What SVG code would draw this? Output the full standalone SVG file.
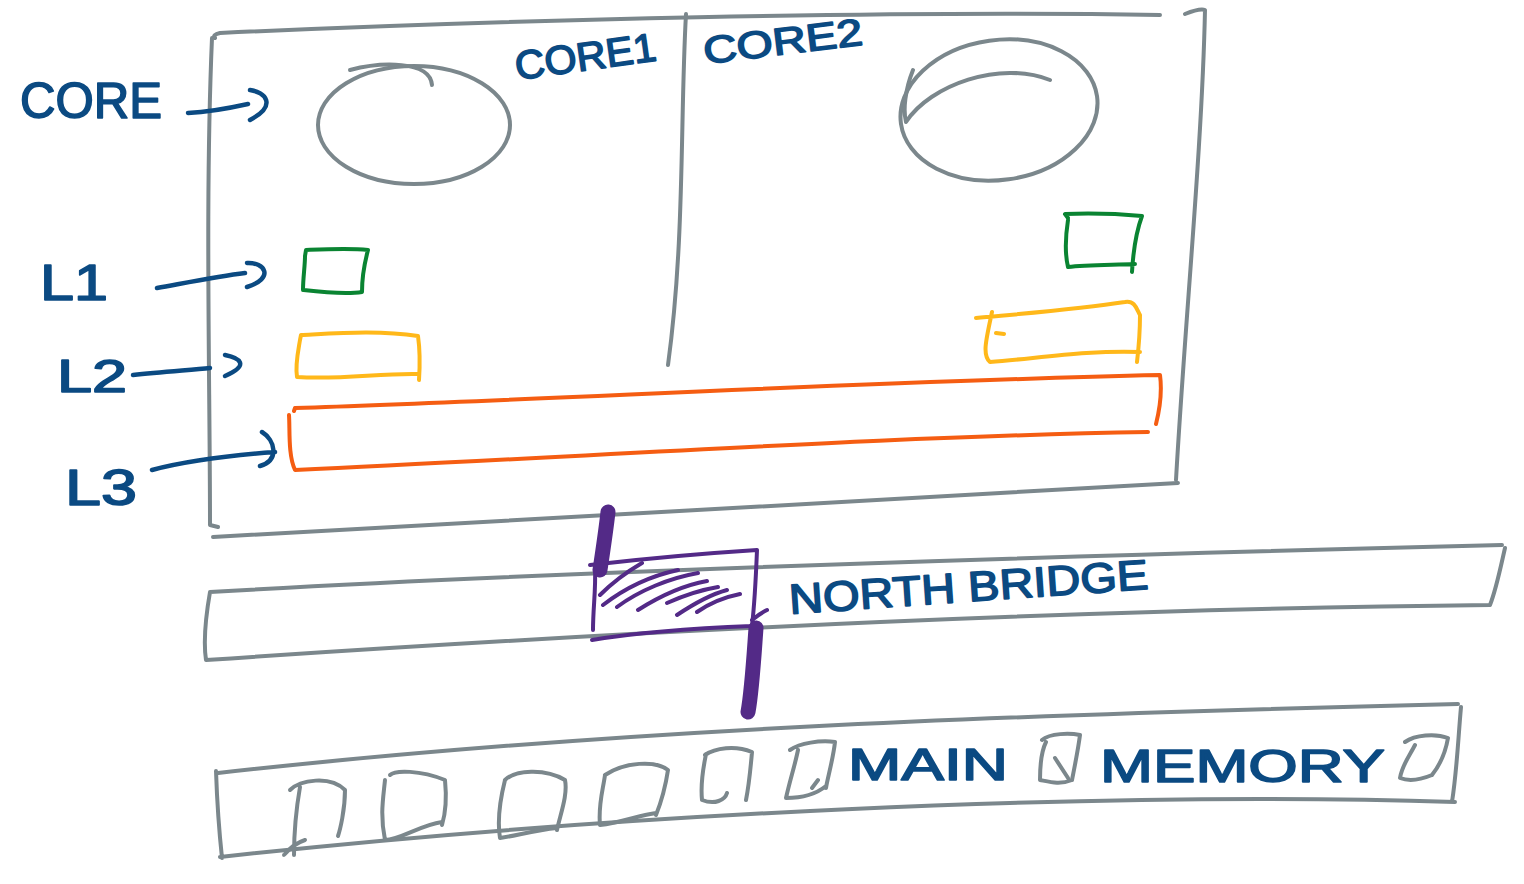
<svg xmlns="http://www.w3.org/2000/svg" width="1524" height="884" viewBox="0 0 1524 884">
<style>
.g{fill:none;stroke:#7b878c;stroke-width:4;stroke-linecap:round;stroke-linejoin:round}
.b{fill:none;stroke:#0b4a82;stroke-width:4.5;stroke-linecap:round;stroke-linejoin:round}
.gr{fill:none;stroke:#0a8432;stroke-width:4;stroke-linecap:round;stroke-linejoin:round}
.y{fill:none;stroke:#ffb81a;stroke-width:4;stroke-linecap:round;stroke-linejoin:round}
.o{fill:none;stroke:#f55d12;stroke-width:4;stroke-linecap:round;stroke-linejoin:round}
.p{fill:none;stroke:#532a87;stroke-width:4;stroke-linecap:round;stroke-linejoin:round}
.pb{fill:none;stroke:#532a87;stroke-width:15;stroke-linecap:round;stroke-linejoin:round}
.t{fill:#0b4a82;stroke:#0b4a82;stroke-width:1.6;stroke-linejoin:round;font-family:"Liberation Sans",Arial,sans-serif;font-weight:normal}
</style>
<rect width="1524" height="884" fill="#ffffff"/>
<g id="cpu">
<path class="g" d="M215 38 Q212 35 220 33 C500 20 900 10 1160 15"/>
<path class="g" d="M1185 14 Q1200 8 1205 10 C1202 150 1185 320 1176 480"/>
<path class="g" d="M212 38 C205 200 210 380 210 525 L218 527"/>
<path class="g" d="M213 537 C500 520 900 500 1178 483"/>
<path class="g" d="M686 14 C680 120 685 240 668 365"/>
</g>
<g id="core1">
<ellipse class="g" cx="414" cy="125" rx="96" ry="59"/>
<path class="g" d="M350 70 C380 62 430 60 432 85"/>
</g>
<g id="core2">
<ellipse class="g" cx="999" cy="110" rx="99" ry="70" transform="rotate(-8 999 110)"/>
<path class="g" d="M913 70 C905 90 903 110 906 122 C930 85 1000 60 1050 80"/>
</g>
<g id="l1-left"><path class="gr" d="M305 256 L306 250 C330 249 350 248 368 250 C364 265 362 280 362 292 C345 295 320 292 303 290 C303 278 305 266 305 256"/></g>
<g id="l1-right"><path class="gr" d="M1068 218 L1065 214 C1090 213 1120 214 1142 216 C1135 235 1133 255 1132 272 M1135 264 C1110 265 1085 265 1068 267 C1064 250 1066 233 1068 220"/></g>
<g id="l2-left"><path class="y" d="M300 340 L301 335 C340 333 380 330 418 336 C420 350 420 365 419 380 M418 374 C380 373 340 380 297 377 C295 365 298 352 300 340"/></g>
<g id="l2-right"><path class="y" d="M976 318 C1030 313 1080 309 1125 302 C1135 300 1137 310 1140 315 C1140 330 1139 345 1137 362 M1140 352 C1090 350 1040 358 990 362 C982 355 986 340 992 312 M996 333 L1004 334"/></g>
<g id="l3"><path class="o" d="M294 411 L295 408 C550 400 850 382 1160 375 C1162 390 1160 408 1156 424 M1148 432 C900 436 600 456 295 470 C288 455 290 430 289 415"/></g>
<g id="northbridge">
<path class="g" d="M210 592 C500 575 900 560 1502 545 M1505 548 C1500 570 1496 590 1490 605 M1490 605 C1000 610 500 640 206 660 C203 640 206 615 210 592"/>
</g>
<g id="chip">
<path class="p" d="M590 565 C650 558 710 553 757 550 C756 575 755 600 752 626 M752 626 C700 628 640 632 592 640 M595 568 C596 590 593 608 593 630"/>
<path class="p" d="M600 595 C615 580 630 570 642 563 M603 605 C625 588 650 576 678 570 M617 607 C640 590 670 578 698 573 M638 610 C660 596 685 585 707 581 M667 603 C685 595 700 590 718 587 M677 615 C695 603 712 594 727 590 M697 612 C710 603 725 597 740 594 M752 620 C758 615 763 612 767 610"/>
</g>
<g id="mainmemory">
<path class="g" d="M218 773 C600 730 1000 715 1458 704 M1461 707 C1458 740 1457 770 1452 802 M1455 802 C1100 790 600 815 220 857 M216 771 C217 800 219 830 222 858"/>
<g id="chips">
<path class="g" d="M290 790 C300 780 330 775 345 790 C345 810 340 830 338 836 M305 840 C290 845 285 855 284 855 M300 787 C296 810 294 835 294 855"/>
<path class="g" d="M390 775 C395 770 420 770 445 780 C447 800 445 815 442 825 M442 822 C420 825 400 840 385 840 C380 815 383 800 385 780"/>
<path class="g" d="M505 780 C515 770 545 768 565 780 C568 795 560 815 557 830 M557 828 C535 830 515 836 500 838 C497 820 500 800 505 780"/>
<path class="g" d="M605 775 C625 762 655 760 668 770 C665 790 660 805 656 815 M656 813 C640 815 620 823 600 825 C598 805 603 790 605 775"/>
<path class="g" d="M705 755 C715 748 735 745 752 752 C750 775 748 790 746 800 M727 793 C725 800 715 805 702 800 C700 780 705 760 706 754"/>
<path class="g" d="M790 750 C800 743 820 740 835 742 C833 760 827 780 826 788 M826 786 C815 795 800 798 786 798 C790 780 795 765 798 750 M812 788 L818 780"/>
<path class="g" d="M1042 740 C1050 733 1070 733 1080 735 C1078 750 1075 765 1072 780 M1072 780 C1060 785 1050 782 1040 780 C1040 765 1042 750 1046 742 M1055 758 L1068 778"/>
<path class="g" d="M1405 742 C1415 735 1435 733 1448 738 C1445 755 1440 765 1432 775 M1432 775 C1420 780 1410 782 1400 778 C1402 765 1410 755 1415 745"/>
</g>
</g>
<g id="connectors">
<path class="pb" d="M608 512 C606 530 603 550 600 570"/>
<path class="pb" d="M756 628 C754 655 752 690 748 712"/>
<path class="b" d="M188 113 C210 112 230 108 248 104 M250 90 C265 92 278 105 250 120"/>
<path class="b" d="M157 288 C190 282 220 276 245 273 M247 263 C265 262 275 278 247 287"/>
<path class="b" d="M133 375 C160 372 190 370 210 368 M225 355 C240 358 250 365 225 376"/>
<path class="b" d="M152 470 C190 460 235 455 275 452 M262 432 C275 440 280 460 260 466"/>
</g>
<g id="labels">
<text class="t" x="20" y="118" font-size="50" textLength="142" lengthAdjust="spacingAndGlyphs">CORE</text>
<text class="t" x="517" y="80" font-size="40" textLength="142" lengthAdjust="spacingAndGlyphs" transform="rotate(-8 517 80)">CORE1</text>
<text class="t" x="705" y="64" font-size="38" textLength="160" lengthAdjust="spacingAndGlyphs" transform="rotate(-7 705 64)">CORE2</text>
<text class="t" x="40" y="300" font-size="50" textLength="68" lengthAdjust="spacingAndGlyphs">L1</text>
<text class="t" x="57" y="392" font-size="46" textLength="70" lengthAdjust="spacingAndGlyphs">L2</text>
<text class="t" x="65" y="505" font-size="50" textLength="72" lengthAdjust="spacingAndGlyphs">L3</text>
<text class="t" x="790" y="614" font-size="42" textLength="360" lengthAdjust="spacingAndGlyphs" transform="rotate(-4 790 614)">NORTH BRIDGE</text>
<text class="t" x="848" y="780" font-size="44" textLength="160" lengthAdjust="spacingAndGlyphs">MAIN</text>
<text class="t" x="1100" y="782" font-size="46" textLength="285" lengthAdjust="spacingAndGlyphs">MEMORY</text>
</g>
</svg>
